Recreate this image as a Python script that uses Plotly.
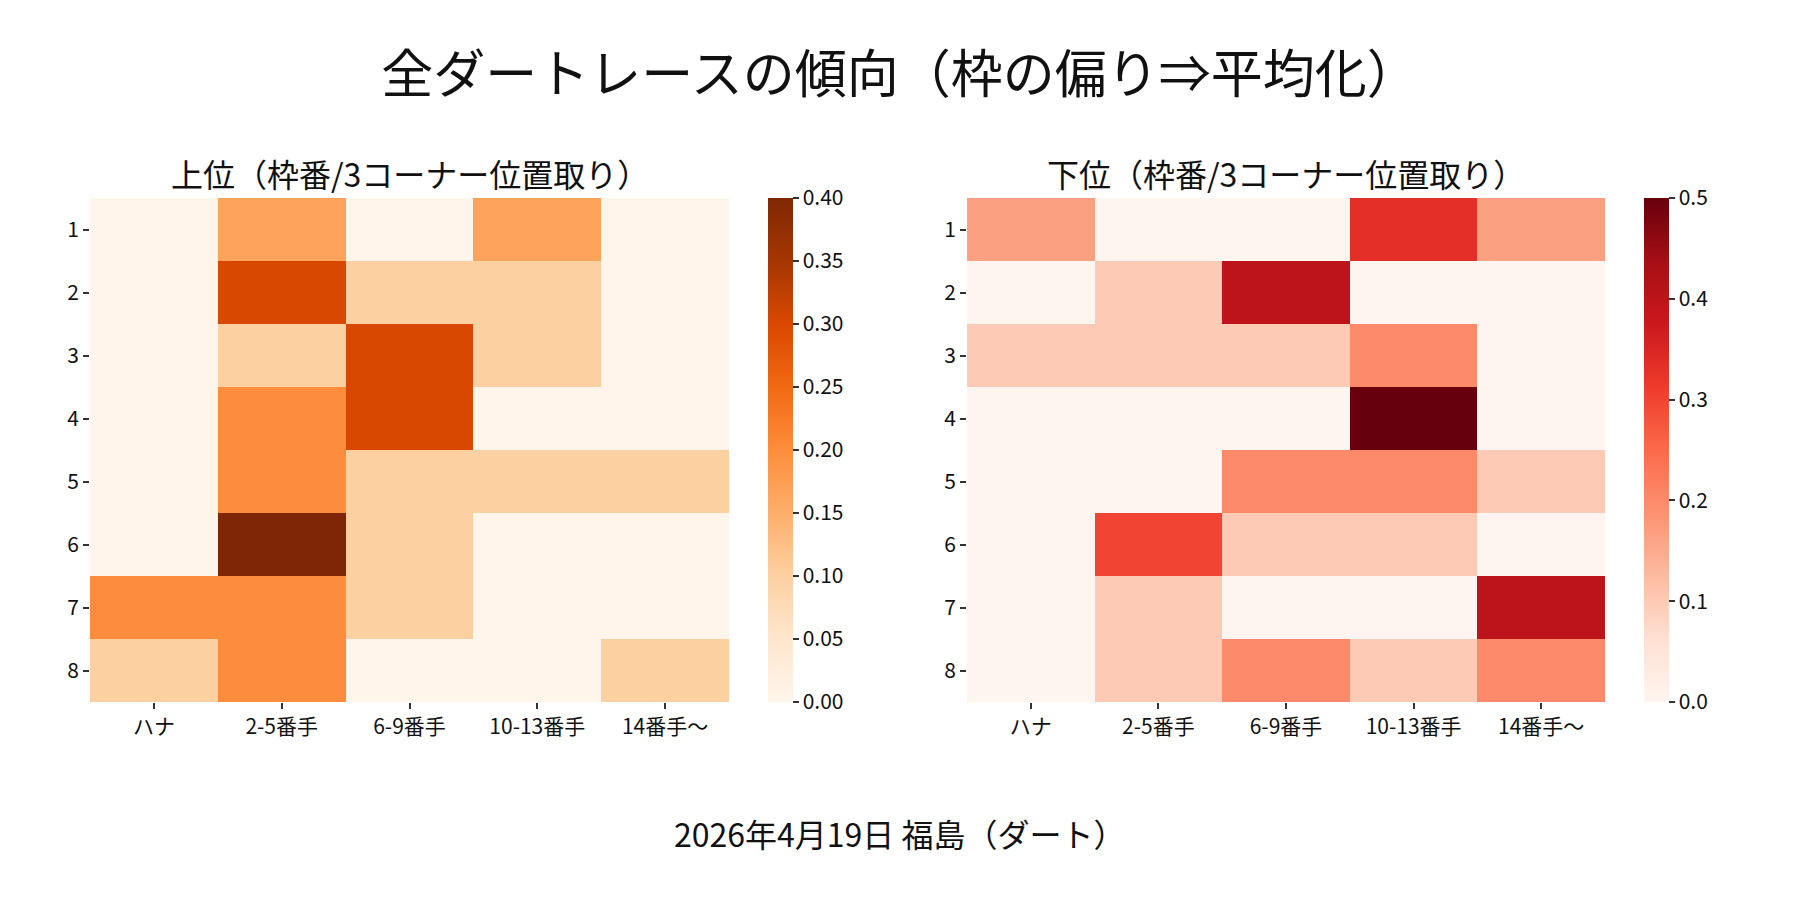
import plotly.graph_objects as go

# 行 = 枠番, 列 = 3コーナー位置取り
WAKU = ['1', '2', '3', '4', '5', '6', '7', '8']
POSITIONS = ['ハナ', '2-5番手', '6-9番手', '10-13番手', '14番手〜']

# 上位の割合
TOP_VALUES = [
    [0.0, 0.1667, 0.0, 0.1667, 0.0],
    [0.0, 0.3, 0.1, 0.1, 0.0],
    [0.0, 0.1, 0.3, 0.1, 0.0],
    [0.0, 0.2, 0.3, 0.0, 0.0],
    [0.0, 0.2, 0.1, 0.1, 0.1],
    [0.0, 0.4, 0.1, 0.0, 0.0],
    [0.2, 0.2, 0.1, 0.0, 0.0],
    [0.1, 0.2, 0.0, 0.0, 0.1],
]

# 下位の割合
BOTTOM_VALUES = [
    [0.1667, 0.0, 0.0, 0.3333, 0.1667],
    [0.0, 0.1, 0.4, 0.0, 0.0],
    [0.1, 0.1, 0.1, 0.2, 0.0],
    [0.0, 0.0, 0.0, 0.5, 0.0],
    [0.0, 0.0, 0.2, 0.2, 0.1],
    [0.0, 0.3, 0.1, 0.1, 0.0],
    [0.0, 0.1, 0.0, 0.0, 0.4],
    [0.0, 0.1, 0.2, 0.1, 0.2],
]

FONT = 'Noto Sans CJK JP'
TEXT = '#111111'

# the page body has an 8px margin, so the figure is 16px smaller than the window
W, H = 1784, 884
OFF = 8


def px_x(v):
    return (v - OFF) / W


def px_y(v):
    return 1 - (v - OFF) / H


Y_DOM = [px_y(702), px_y(198)]


def colorbar(left, dtick, fmt):
    return dict(x=px_x(left), xanchor='left', xpad=0,
                y=Y_DOM[0], yanchor='bottom', ypad=0,
                len=Y_DOM[1] - Y_DOM[0], thickness=25, outlinewidth=0,
                ticks='outside', ticklen=6, tickwidth=1.5, tickcolor='#333',
                tick0=0, dtick=dtick, tickformat=fmt,
                tickfont=dict(size=21, family=FONT, color=TEXT))


fig = go.Figure()

fig.add_trace(go.Heatmap(
    z=TOP_VALUES, x=POSITIONS, y=WAKU,
    colorscale='Oranges', zmin=0, zmax=max(max(r) for r in TOP_VALUES),
    xaxis='x', yaxis='y',
    colorbar=colorbar(768, 0.05, '.2f'),
))

fig.add_trace(go.Heatmap(
    z=BOTTOM_VALUES, x=POSITIONS, y=WAKU,
    colorscale='Reds', zmin=0, zmax=max(max(r) for r in BOTTOM_VALUES),
    xaxis='x2', yaxis='y2',
    colorbar=colorbar(1644, 0.1, '.1f'),
))

axis_common = dict(showgrid=False, zeroline=False, showline=False,
                   ticks='outside', ticklen=6, tickwidth=1.5, tickcolor='#333',
                   tickfont=dict(size=21, family=FONT, color=TEXT))

title_font = dict(size=32, family=FONT, color=TEXT)

fig.update_layout(
    width=W, height=H,
    margin=dict(l=0, r=0, t=0, b=0),
    paper_bgcolor='white', plot_bgcolor='white',
    font=dict(family=FONT, color=TEXT),
    title=dict(text='全ダートレースの傾向（枠の偏り⇒平均化）', x=px_x(900), xanchor='center',
               y=px_y(75), yanchor='middle',
               font=dict(size=52, family=FONT, color=TEXT)),
    xaxis=dict(domain=[px_x(90), px_x(729)], anchor='y', **axis_common),
    yaxis=dict(domain=Y_DOM, anchor='x', autorange='reversed', **axis_common),
    xaxis2=dict(domain=[px_x(967), px_x(1605)], anchor='y2', **axis_common),
    yaxis2=dict(domain=Y_DOM, anchor='x2', autorange='reversed', **axis_common),
    annotations=[
        dict(text='上位（枠番/3コーナー位置取り）', xref='paper', yref='paper',
             x=px_x((90 + 729) / 2), y=px_y(173), xanchor='center', yanchor='middle',
             showarrow=False, font=title_font),
        dict(text='下位（枠番/3コーナー位置取り）', xref='paper', yref='paper',
             x=px_x((967 + 1605) / 2), y=px_y(173), xanchor='center', yanchor='middle',
             showarrow=False, font=title_font),
        dict(text='2026年4月19日 福島（ダート）', xref='paper', yref='paper',
             x=px_x(900), y=px_y(833), xanchor='center', yanchor='middle',
             showarrow=False, font=title_font),
    ],
)

fig.write_html('out.html')
